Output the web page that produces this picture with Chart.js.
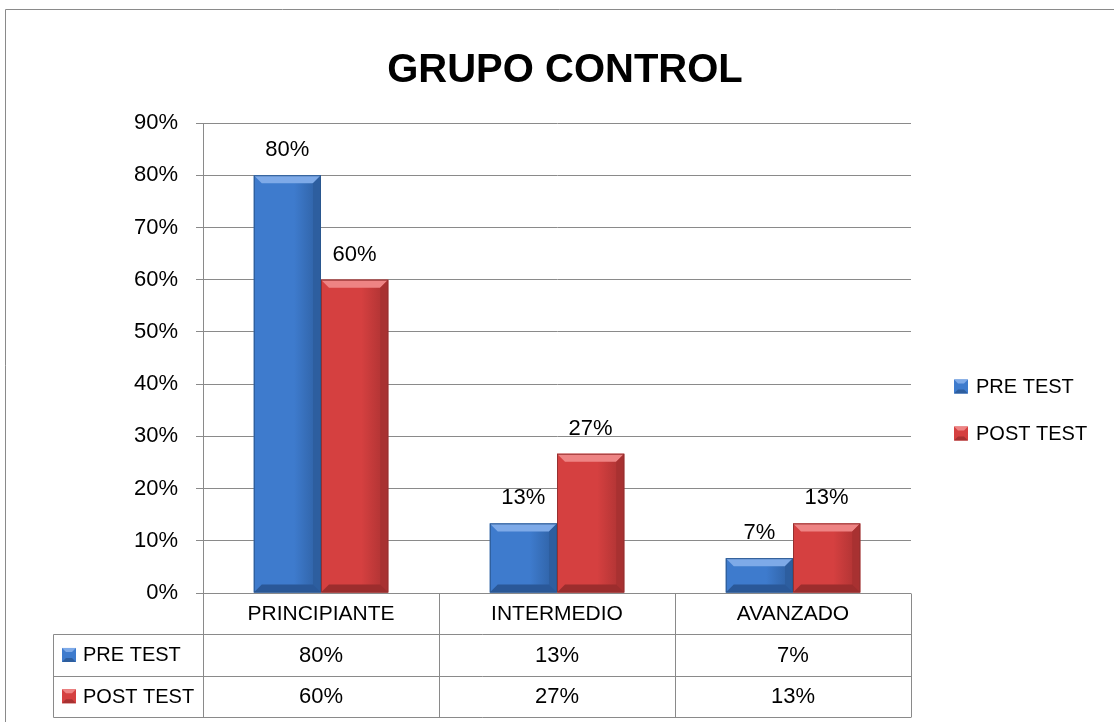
<!DOCTYPE html>
<html>
<head>
<meta charset="utf-8">
<script src="https://cdn.jsdelivr.net/npm/chart.js@4/dist/chart.umd.min.js"></script>
<style>
  html, body { margin: 0; padding: 0; background: #fff; }
  #wrap { width: 1114px; height: 722px; position: relative; }
</style>
</head>
<body>
<div id="wrap"><canvas id="grupo-canvas"></canvas></div>
<script>
'use strict';

// datos
const categories = ['PRINCIPIANTE', 'INTERMEDIO', 'AVANZADO'];
const seriesNames = ['PRE TEST', 'POST TEST'];
const preTest = [80, 13.33, 6.67];
const postTest = [60, 26.67, 13.33];
const chartTitle = 'GRUPO CONTROL';

const FONT = '"Liberation Sans", Arial, sans-serif';
const GRID = '#8a8a8a';
const colors = [
    { face: '#3e7bcd', light: '#7eaae8', dark: '#2d5e9f', bottom: '#2a5898', edge: '#2a578f' },
    { face: '#d54040', light: '#ee8484', dark: '#a83131', bottom: '#9c2d2d', edge: '#963030' }
];

function pct(v) {
    return Math.round(v) + '%';
}

// Dibuja un pequeño cuadro biselado para leyenda y tabla
function drawKey(ctx, x, y, s, c) {
    ctx.fillStyle = c.face;
    ctx.fillRect(x, y, s, s);
    let b = 4;
    ctx.fillStyle = c.light;
    ctx.beginPath();
    ctx.moveTo(x, y); ctx.lineTo(x + s, y); ctx.lineTo(x + s - b, y + b); ctx.lineTo(x + b, y + b);
    ctx.closePath(); ctx.fill();
    ctx.fillStyle = c.dark;
    ctx.beginPath();
    ctx.moveTo(x, y + s); ctx.lineTo(x + s, y + s); ctx.lineTo(x + s - b, y + s - b); ctx.lineTo(x + b, y + s - b);
    ctx.closePath(); ctx.fill();
}

// bisel de las barras
const bevelPlugin = {
    id: 'bevel',
    afterDatasetsDraw(chart) {
        let ctx = chart.ctx;
        chart.data.datasets.forEach((ds, di) => {
            let c = colors[di];
            chart.getDatasetMeta(di).data.forEach((bar, idx) => {
                let l = bar.x - bar.width / 2, r = bar.x + bar.width / 2;
                let t = bar.y, bt = bar.base;
                let b = Math.min(8, (bt - t) / 2);
                ctx.save();
                // cara frontal con degradado
                let g = ctx.createLinearGradient(l, 0, r, 0);
                g.addColorStop(0, c.face);
                g.addColorStop(0.6, c.face);
                g.addColorStop(1, c.dark);
                ctx.fillStyle = g;
                ctx.fillRect(l, t, r - l, bt - t);
                // arriba
                ctx.fillStyle = c.light;
                ctx.beginPath();
                ctx.moveTo(l, t); ctx.lineTo(r, t); ctx.lineTo(r - b, t + b); ctx.lineTo(l + b, t + b);
                ctx.closePath(); ctx.fill();
                // derecha
                ctx.fillStyle = c.dark;
                ctx.beginPath();
                ctx.moveTo(r, t); ctx.lineTo(r, bt); ctx.lineTo(r - b, bt - b); ctx.lineTo(r - b, t + b);
                ctx.closePath(); ctx.fill();
                // abajo
                ctx.fillStyle = c.bottom;
                ctx.beginPath();
                ctx.moveTo(l, bt); ctx.lineTo(r, bt); ctx.lineTo(r - b, bt - b); ctx.lineTo(l + b, bt - b);
                ctx.closePath(); ctx.fill();
                ctx.strokeStyle = c.edge;
                ctx.lineWidth = 1;
                ctx.strokeRect(l + 0.5, t + 0.5, r - l - 1, bt - t - 1);
                // etiqueta
                ctx.fillStyle = '#000';
                ctx.font = '22px ' + FONT;
                ctx.textAlign = 'center';
                ctx.textBaseline = 'middle';
                ctx.fillText(pct(ds.data[idx]), bar.x, t - 25);
                ctx.restore();
            });
        });
    }
};

// titulo, tabla de datos, leyenda y marco
const tablePlugin = {
    id: 'dataTable',
    afterDraw(chart) {
        let ctx = chart.ctx;
        let area = chart.chartArea;
        let xs = chart.scales.x;
        let rowH = 41.3;
        let top = area.bottom;
        let left = 53;
        let step = (area.right - area.left) / categories.length;
        let yr = r => Math.round(top + r * rowH) + 0.5;
        ctx.save();
        ctx.fillStyle = '#000';
        ctx.font = 'bold 40px ' + FONT;
        ctx.textAlign = 'center';
        ctx.textBaseline = 'middle';
        ctx.fillText(chartTitle, 565, 71);

        ctx.strokeStyle = GRID;
        ctx.lineWidth = 1;
        ctx.beginPath();
        // marco exterior
        ctx.moveTo(5.5, 722); ctx.lineTo(5.5, 9.5); ctx.lineTo(1114, 9.5);
        // lineas horizontales
        ctx.moveTo(area.left - 7, yr(0)); ctx.lineTo(area.right, yr(0));
        for (let r = 1; r <= 3; r++) {
            ctx.moveTo(left + 0.5, yr(r)); ctx.lineTo(area.right, yr(r));
        }
        // lineas verticales
        ctx.moveTo(left + 0.5, yr(1)); ctx.lineTo(left + 0.5, yr(3));
        ctx.moveTo(area.left + 0.5, yr(0)); ctx.lineTo(area.left + 0.5, yr(3));
        for (let i = 0; i < categories.length; i++) {
            let xb = Math.round(xs.getPixelForValue(i) + step / 2) + 0.5;
            ctx.moveTo(xb, yr(0)); ctx.lineTo(xb, yr(3));
        }
        ctx.stroke();

        ctx.fillStyle = '#000';
        ctx.textBaseline = 'middle';
        ctx.textAlign = 'center';
        categories.forEach((cat, i) => {
            let cx = xs.getPixelForValue(i);
            ctx.font = '21px ' + FONT;
            ctx.fillText(cat, cx, top + rowH * 0.5 + 1);
            ctx.font = '22px ' + FONT;
            ctx.fillText(pct(preTest[i]), cx, top + rowH * 1.5 + 1);
            ctx.fillText(pct(postTest[i]), cx, top + rowH * 2.5 + 1);
        });
        // encabezados de fila
        ctx.textAlign = 'left';
        ctx.font = '20px ' + FONT;
        seriesNames.forEach((name, i) => {
            let cy = top + rowH * (1.5 + i);
            drawKey(ctx, left + 9, cy - 7, 14, colors[i]);
            ctx.fillStyle = '#000';
            ctx.fillText(name, left + 30, cy + 1);
        });
        // leyenda a la derecha
        let mid = 410;
        seriesNames.forEach((name, i) => {
            let cy = mid + (i - 0.5) * 47;
            drawKey(ctx, area.right + 43, cy - 7, 14, colors[i]);
            ctx.fillStyle = '#000';
            ctx.fillText(name, area.right + 65, cy + 1);
        });
        ctx.restore();
    }
};

let ctx = document.getElementById('grupo-canvas');
let chart = new Chart(ctx, {
    type: 'bar',
    data: {
        labels: categories,
        datasets: [
            { label: seriesNames[0], data: preTest, backgroundColor: 'rgba(0,0,0,0)' },
            { label: seriesNames[1], data: postTest, backgroundColor: 'rgba(0,0,0,0)' }
        ]
    },
    options: {
        responsive: true,
        maintainAspectRatio: false,
        animation: false,
        layout: { padding: { left: 5, right: 203, top: 123, bottom: 129 } },
        datasets: { bar: { categoryPercentage: 0.57, barPercentage: 1.0 } },
        plugins: {
            legend: { display: false },
            tooltip: { enabled: false },
            title: { display: false }
        },
        scales: {
            x: { display: false },
            y: {
                min: 0,
                max: 90,
                ticks: {
                    stepSize: 10,
                    callback: v => v + '%',
                    color: '#000',
                    font: { size: 22, family: FONT },
                    padding: 18
                },
                grid: { color: GRID, tickLength: 7, drawTicks: true },
                border: { color: GRID },
                afterFit: s => { s.width = 198; }
            }
        }
    },
    plugins: [bevelPlugin, tablePlugin]
});
</script>
</body>
</html>
